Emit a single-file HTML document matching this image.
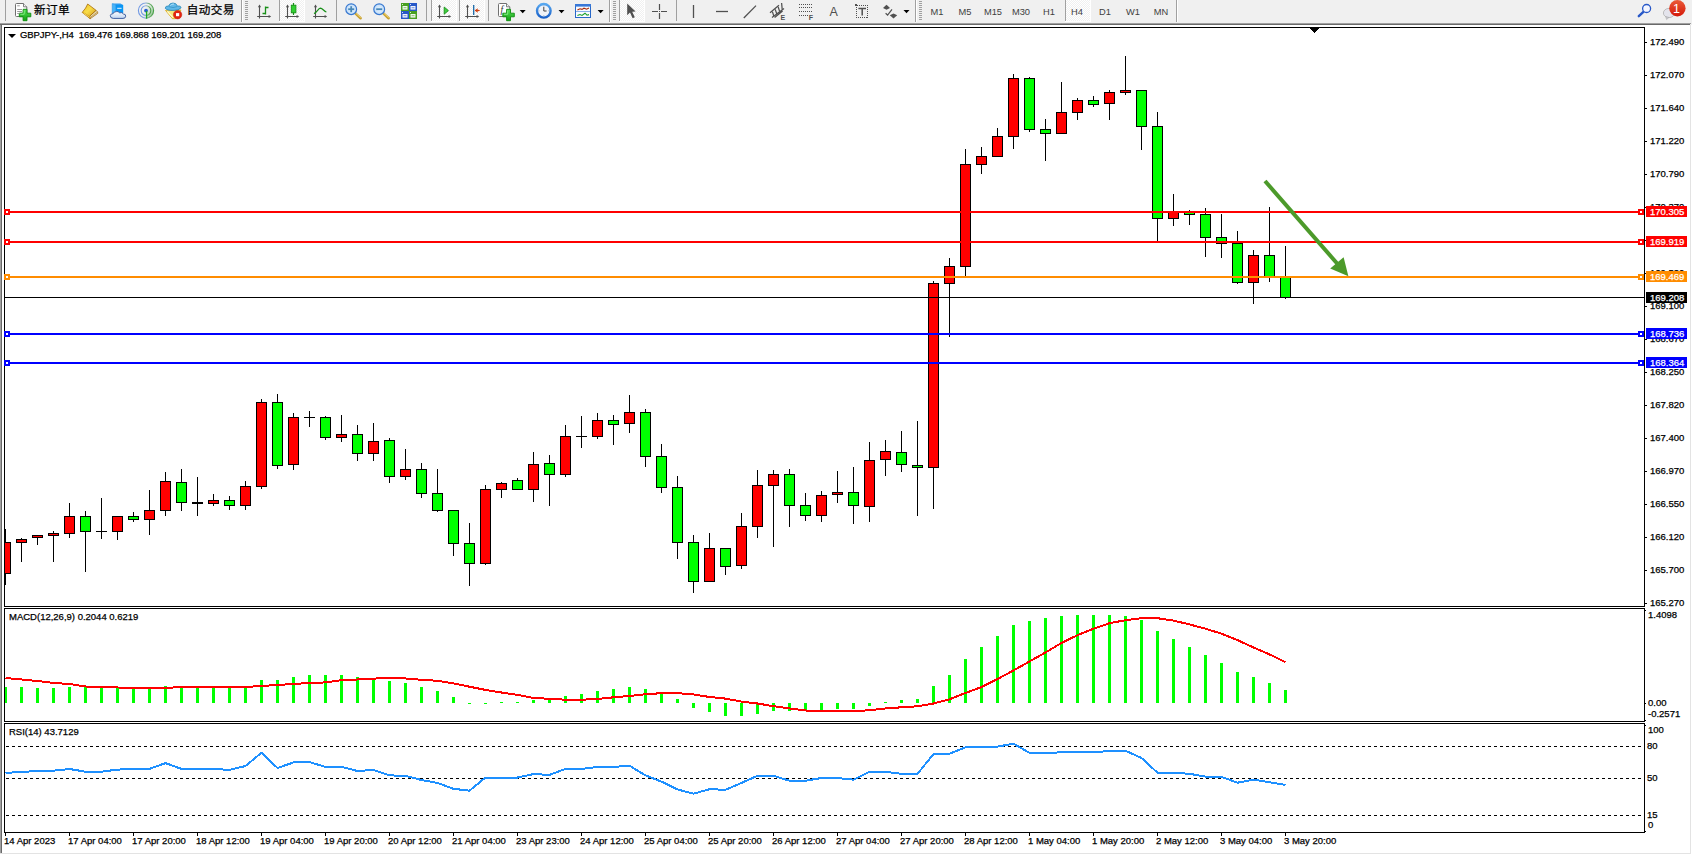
<!DOCTYPE html>
<html lang="zh"><head><meta charset="utf-8"><title>GBPJPY-,H4</title>
<style>
html,body{margin:0;padding:0}
body{width:1692px;height:855px;position:relative;overflow:hidden;background:#fff;font-family:"Liberation Sans","Noto Sans CJK SC",sans-serif}
.c{position:absolute;font-size:9.5px;line-height:11px;-webkit-text-stroke:0.25px #000;height:11px;white-space:nowrap;color:#000}
.w{color:#fff;-webkit-text-stroke:0.25px #fff}
.tb{position:absolute;white-space:nowrap}
svg{display:block}
</style></head><body>
<svg width="1692" height="855" style="position:absolute;left:0;top:0" shape-rendering="crispEdges">
<defs><clipPath id="cm"><rect x="5" y="28" width="1639" height="578"/></clipPath></defs>
<rect x="0" y="0" width="1692" height="22" fill="#f0f0f0"/>
<rect x="0" y="22" width="1692" height="1" fill="#f0f0f0"/>
<rect x="0" y="23" width="1691" height="1" fill="#a0a0a0"/>
<rect x="0" y="24" width="1690" height="1" fill="#696969"/>
<rect x="1691" y="23" width="1" height="2" fill="#f0f0f0"/>
<rect x="1690" y="24" width="1" height="1" fill="#f0f0f0"/>
<rect x="0" y="25" width="1" height="828" fill="#a0a0a0"/>
<rect x="1" y="25" width="1" height="828" fill="#696969"/>
<rect x="1690" y="25" width="1" height="829" fill="#e3e3e3"/>
<rect x="0" y="853" width="1691" height="1" fill="#e3e3e3"/>
<rect x="4" y="27" width="1641" height="1" fill="#000"/>
<rect x="4" y="606" width="1641" height="1" fill="#000"/>
<rect x="4" y="27" width="1" height="580" fill="#000"/>
<rect x="1644" y="27" width="1" height="580" fill="#000"/>
<rect x="4" y="608" width="1641" height="1" fill="#000"/>
<rect x="4" y="721" width="1641" height="1" fill="#000"/>
<rect x="4" y="608" width="1" height="114" fill="#000"/>
<rect x="1644" y="608" width="1" height="114" fill="#000"/>
<rect x="4" y="723" width="1641" height="1" fill="#000"/>
<rect x="4" y="832" width="1641" height="1" fill="#000"/>
<rect x="4" y="723" width="1" height="110" fill="#000"/>
<rect x="1644" y="723" width="1" height="110" fill="#000"/>
<rect x="1310" y="28" width="9" height="1" fill="#000"/>
<rect x="1311" y="29" width="7" height="1" fill="#000"/>
<rect x="1312" y="30" width="5" height="1" fill="#000"/>
<rect x="1313" y="31" width="3" height="1" fill="#000"/>
<rect x="1314" y="32" width="1" height="1" fill="#000"/>
<rect x="1645" y="42" width="2" height="1" fill="#000"/>
<rect x="1645" y="75" width="2" height="1" fill="#000"/>
<rect x="1645" y="108" width="2" height="1" fill="#000"/>
<rect x="1645" y="141" width="2" height="1" fill="#000"/>
<rect x="1645" y="174" width="2" height="1" fill="#000"/>
<rect x="1645" y="207" width="2" height="1" fill="#000"/>
<rect x="1645" y="240" width="2" height="1" fill="#000"/>
<rect x="1645" y="273" width="2" height="1" fill="#000"/>
<rect x="1645" y="306" width="2" height="1" fill="#000"/>
<rect x="1645" y="339" width="2" height="1" fill="#000"/>
<rect x="1645" y="372" width="2" height="1" fill="#000"/>
<rect x="1645" y="405" width="2" height="1" fill="#000"/>
<rect x="1645" y="438" width="2" height="1" fill="#000"/>
<rect x="1645" y="471" width="2" height="1" fill="#000"/>
<rect x="1645" y="504" width="2" height="1" fill="#000"/>
<rect x="1645" y="537" width="2" height="1" fill="#000"/>
<rect x="1645" y="570" width="2" height="1" fill="#000"/>
<rect x="1645" y="603" width="2" height="1" fill="#000"/>
<rect x="1645" y="610" width="1" height="1" fill="#000"/>
<rect x="1645" y="703" width="1" height="1" fill="#000"/>
<rect x="1645" y="720" width="1" height="1" fill="#000"/>
<rect x="1645" y="725" width="1" height="1" fill="#000"/>
<rect x="1645" y="831" width="1" height="1" fill="#000"/>
<rect x="5" y="833" width="1" height="3" fill="#000"/>
<rect x="69" y="833" width="1" height="3" fill="#000"/>
<rect x="133" y="833" width="1" height="3" fill="#000"/>
<rect x="197" y="833" width="1" height="3" fill="#000"/>
<rect x="261" y="833" width="1" height="3" fill="#000"/>
<rect x="325" y="833" width="1" height="3" fill="#000"/>
<rect x="389" y="833" width="1" height="3" fill="#000"/>
<rect x="453" y="833" width="1" height="3" fill="#000"/>
<rect x="517" y="833" width="1" height="3" fill="#000"/>
<rect x="581" y="833" width="1" height="3" fill="#000"/>
<rect x="645" y="833" width="1" height="3" fill="#000"/>
<rect x="709" y="833" width="1" height="3" fill="#000"/>
<rect x="773" y="833" width="1" height="3" fill="#000"/>
<rect x="837" y="833" width="1" height="3" fill="#000"/>
<rect x="901" y="833" width="1" height="3" fill="#000"/>
<rect x="965" y="833" width="1" height="3" fill="#000"/>
<rect x="1029" y="833" width="1" height="3" fill="#000"/>
<rect x="1093" y="833" width="1" height="3" fill="#000"/>
<rect x="1157" y="833" width="1" height="3" fill="#000"/>
<rect x="1221" y="833" width="1" height="3" fill="#000"/>
<rect x="1285" y="833" width="1" height="3" fill="#000"/>
<g clip-path="url(#cm)">
<rect x="5" y="529" width="1" height="56" fill="#000"/>
<rect x="0" y="542" width="11" height="32" fill="#000"/>
<rect x="1" y="543" width="9" height="30" fill="#ff0000"/>
<rect x="21" y="538" width="1" height="24" fill="#000"/>
<rect x="16" y="539" width="11" height="4" fill="#000"/>
<rect x="17" y="540" width="9" height="2" fill="#ff0000"/>
<rect x="37" y="535" width="1" height="10" fill="#000"/>
<rect x="32" y="535" width="11" height="3" fill="#000"/>
<rect x="33" y="536" width="9" height="1" fill="#ff0000"/>
<rect x="53" y="531" width="1" height="31" fill="#000"/>
<rect x="48" y="533" width="11" height="3" fill="#000"/>
<rect x="49" y="534" width="9" height="1" fill="#ff0000"/>
<rect x="69" y="503" width="1" height="35" fill="#000"/>
<rect x="64" y="516" width="11" height="18" fill="#000"/>
<rect x="65" y="517" width="9" height="16" fill="#ff0000"/>
<rect x="85" y="511" width="1" height="61" fill="#000"/>
<rect x="80" y="516" width="11" height="16" fill="#000"/>
<rect x="81" y="517" width="9" height="14" fill="#00ff00"/>
<rect x="101" y="498" width="1" height="41" fill="#000"/>
<rect x="96" y="531" width="11" height="1" fill="#000"/>
<rect x="117" y="516" width="1" height="24" fill="#000"/>
<rect x="112" y="516" width="11" height="16" fill="#000"/>
<rect x="113" y="517" width="9" height="14" fill="#ff0000"/>
<rect x="133" y="512" width="1" height="10" fill="#000"/>
<rect x="128" y="516" width="11" height="4" fill="#000"/>
<rect x="129" y="517" width="9" height="2" fill="#00ff00"/>
<rect x="149" y="490" width="1" height="45" fill="#000"/>
<rect x="144" y="510" width="11" height="10" fill="#000"/>
<rect x="145" y="511" width="9" height="8" fill="#ff0000"/>
<rect x="165" y="472" width="1" height="44" fill="#000"/>
<rect x="160" y="481" width="11" height="30" fill="#000"/>
<rect x="161" y="482" width="9" height="28" fill="#ff0000"/>
<rect x="181" y="469" width="1" height="42" fill="#000"/>
<rect x="176" y="482" width="11" height="21" fill="#000"/>
<rect x="177" y="483" width="9" height="19" fill="#00ff00"/>
<rect x="197" y="477" width="1" height="39" fill="#000"/>
<rect x="192" y="502" width="11" height="2" fill="#000"/>
<rect x="213" y="494" width="1" height="12" fill="#000"/>
<rect x="208" y="500" width="11" height="4" fill="#000"/>
<rect x="209" y="501" width="9" height="2" fill="#ff0000"/>
<rect x="229" y="496" width="1" height="14" fill="#000"/>
<rect x="224" y="500" width="11" height="6" fill="#000"/>
<rect x="225" y="501" width="9" height="4" fill="#00ff00"/>
<rect x="245" y="481" width="1" height="29" fill="#000"/>
<rect x="240" y="486" width="11" height="20" fill="#000"/>
<rect x="241" y="487" width="9" height="18" fill="#ff0000"/>
<rect x="261" y="399" width="1" height="90" fill="#000"/>
<rect x="256" y="402" width="11" height="85" fill="#000"/>
<rect x="257" y="403" width="9" height="83" fill="#ff0000"/>
<rect x="277" y="394" width="1" height="75" fill="#000"/>
<rect x="272" y="402" width="11" height="64" fill="#000"/>
<rect x="273" y="403" width="9" height="62" fill="#00ff00"/>
<rect x="293" y="413" width="1" height="57" fill="#000"/>
<rect x="288" y="417" width="11" height="48" fill="#000"/>
<rect x="289" y="418" width="9" height="46" fill="#ff0000"/>
<rect x="309" y="411" width="1" height="16" fill="#000"/>
<rect x="304" y="417" width="11" height="1" fill="#000"/>
<rect x="325" y="416" width="1" height="24" fill="#000"/>
<rect x="320" y="417" width="11" height="21" fill="#000"/>
<rect x="321" y="418" width="9" height="19" fill="#00ff00"/>
<rect x="341" y="415" width="1" height="27" fill="#000"/>
<rect x="336" y="434" width="11" height="4" fill="#000"/>
<rect x="337" y="435" width="9" height="2" fill="#ff0000"/>
<rect x="357" y="425" width="1" height="36" fill="#000"/>
<rect x="352" y="434" width="11" height="20" fill="#000"/>
<rect x="353" y="435" width="9" height="18" fill="#00ff00"/>
<rect x="373" y="423" width="1" height="38" fill="#000"/>
<rect x="368" y="441" width="11" height="13" fill="#000"/>
<rect x="369" y="442" width="9" height="11" fill="#ff0000"/>
<rect x="389" y="438" width="1" height="45" fill="#000"/>
<rect x="384" y="440" width="11" height="37" fill="#000"/>
<rect x="385" y="441" width="9" height="35" fill="#00ff00"/>
<rect x="405" y="449" width="1" height="31" fill="#000"/>
<rect x="400" y="469" width="11" height="8" fill="#000"/>
<rect x="401" y="470" width="9" height="6" fill="#ff0000"/>
<rect x="421" y="463" width="1" height="35" fill="#000"/>
<rect x="416" y="469" width="11" height="25" fill="#000"/>
<rect x="417" y="470" width="9" height="23" fill="#00ff00"/>
<rect x="437" y="469" width="1" height="43" fill="#000"/>
<rect x="432" y="493" width="11" height="18" fill="#000"/>
<rect x="433" y="494" width="9" height="16" fill="#00ff00"/>
<rect x="453" y="510" width="1" height="46" fill="#000"/>
<rect x="448" y="510" width="11" height="34" fill="#000"/>
<rect x="449" y="511" width="9" height="32" fill="#00ff00"/>
<rect x="469" y="523" width="1" height="63" fill="#000"/>
<rect x="464" y="543" width="11" height="21" fill="#000"/>
<rect x="465" y="544" width="9" height="19" fill="#00ff00"/>
<rect x="485" y="485" width="1" height="80" fill="#000"/>
<rect x="480" y="489" width="11" height="75" fill="#000"/>
<rect x="481" y="490" width="9" height="73" fill="#ff0000"/>
<rect x="501" y="482" width="1" height="16" fill="#000"/>
<rect x="496" y="483" width="11" height="7" fill="#000"/>
<rect x="497" y="484" width="9" height="5" fill="#ff0000"/>
<rect x="517" y="478" width="1" height="12" fill="#000"/>
<rect x="512" y="480" width="11" height="10" fill="#000"/>
<rect x="513" y="481" width="9" height="8" fill="#00ff00"/>
<rect x="533" y="452" width="1" height="50" fill="#000"/>
<rect x="528" y="464" width="11" height="26" fill="#000"/>
<rect x="529" y="465" width="9" height="24" fill="#ff0000"/>
<rect x="549" y="455" width="1" height="51" fill="#000"/>
<rect x="544" y="463" width="11" height="12" fill="#000"/>
<rect x="545" y="464" width="9" height="10" fill="#00ff00"/>
<rect x="565" y="425" width="1" height="52" fill="#000"/>
<rect x="560" y="436" width="11" height="39" fill="#000"/>
<rect x="561" y="437" width="9" height="37" fill="#ff0000"/>
<rect x="581" y="416" width="1" height="32" fill="#000"/>
<rect x="576" y="436" width="11" height="1" fill="#000"/>
<rect x="597" y="413" width="1" height="26" fill="#000"/>
<rect x="592" y="420" width="11" height="17" fill="#000"/>
<rect x="593" y="421" width="9" height="15" fill="#ff0000"/>
<rect x="613" y="415" width="1" height="30" fill="#000"/>
<rect x="608" y="420" width="11" height="5" fill="#000"/>
<rect x="609" y="421" width="9" height="3" fill="#00ff00"/>
<rect x="629" y="395" width="1" height="38" fill="#000"/>
<rect x="624" y="412" width="11" height="12" fill="#000"/>
<rect x="625" y="413" width="9" height="10" fill="#ff0000"/>
<rect x="645" y="409" width="1" height="58" fill="#000"/>
<rect x="640" y="412" width="11" height="45" fill="#000"/>
<rect x="641" y="413" width="9" height="43" fill="#00ff00"/>
<rect x="661" y="444" width="1" height="49" fill="#000"/>
<rect x="656" y="456" width="11" height="32" fill="#000"/>
<rect x="657" y="457" width="9" height="30" fill="#00ff00"/>
<rect x="677" y="476" width="1" height="83" fill="#000"/>
<rect x="672" y="487" width="11" height="56" fill="#000"/>
<rect x="673" y="488" width="9" height="54" fill="#00ff00"/>
<rect x="693" y="535" width="1" height="58" fill="#000"/>
<rect x="688" y="542" width="11" height="40" fill="#000"/>
<rect x="689" y="543" width="9" height="38" fill="#00ff00"/>
<rect x="709" y="533" width="1" height="49" fill="#000"/>
<rect x="704" y="548" width="11" height="34" fill="#000"/>
<rect x="705" y="549" width="9" height="32" fill="#ff0000"/>
<rect x="725" y="548" width="1" height="27" fill="#000"/>
<rect x="720" y="548" width="11" height="19" fill="#000"/>
<rect x="721" y="549" width="9" height="17" fill="#00ff00"/>
<rect x="741" y="513" width="1" height="56" fill="#000"/>
<rect x="736" y="526" width="11" height="40" fill="#000"/>
<rect x="737" y="527" width="9" height="38" fill="#ff0000"/>
<rect x="757" y="470" width="1" height="68" fill="#000"/>
<rect x="752" y="485" width="11" height="42" fill="#000"/>
<rect x="753" y="486" width="9" height="40" fill="#ff0000"/>
<rect x="773" y="470" width="1" height="77" fill="#000"/>
<rect x="768" y="474" width="11" height="12" fill="#000"/>
<rect x="769" y="475" width="9" height="10" fill="#ff0000"/>
<rect x="789" y="469" width="1" height="58" fill="#000"/>
<rect x="784" y="474" width="11" height="32" fill="#000"/>
<rect x="785" y="475" width="9" height="30" fill="#00ff00"/>
<rect x="805" y="493" width="1" height="28" fill="#000"/>
<rect x="800" y="505" width="11" height="11" fill="#000"/>
<rect x="801" y="506" width="9" height="9" fill="#00ff00"/>
<rect x="821" y="491" width="1" height="31" fill="#000"/>
<rect x="816" y="495" width="11" height="21" fill="#000"/>
<rect x="817" y="496" width="9" height="19" fill="#ff0000"/>
<rect x="837" y="471" width="1" height="32" fill="#000"/>
<rect x="832" y="492" width="11" height="3" fill="#000"/>
<rect x="833" y="493" width="9" height="1" fill="#ff0000"/>
<rect x="853" y="467" width="1" height="57" fill="#000"/>
<rect x="848" y="492" width="11" height="14" fill="#000"/>
<rect x="849" y="493" width="9" height="12" fill="#00ff00"/>
<rect x="869" y="442" width="1" height="80" fill="#000"/>
<rect x="864" y="460" width="11" height="47" fill="#000"/>
<rect x="865" y="461" width="9" height="45" fill="#ff0000"/>
<rect x="885" y="440" width="1" height="36" fill="#000"/>
<rect x="880" y="451" width="11" height="9" fill="#000"/>
<rect x="881" y="452" width="9" height="7" fill="#ff0000"/>
<rect x="901" y="431" width="1" height="41" fill="#000"/>
<rect x="896" y="452" width="11" height="13" fill="#000"/>
<rect x="897" y="453" width="9" height="11" fill="#00ff00"/>
<rect x="917" y="421" width="1" height="95" fill="#000"/>
<rect x="912" y="465" width="11" height="3" fill="#000"/>
<rect x="913" y="466" width="9" height="1" fill="#00ff00"/>
<rect x="933" y="281" width="1" height="228" fill="#000"/>
<rect x="928" y="283" width="11" height="185" fill="#000"/>
<rect x="929" y="284" width="9" height="183" fill="#ff0000"/>
<rect x="949" y="258" width="1" height="79" fill="#000"/>
<rect x="944" y="266" width="11" height="18" fill="#000"/>
<rect x="945" y="267" width="9" height="16" fill="#ff0000"/>
<rect x="965" y="149" width="1" height="127" fill="#000"/>
<rect x="960" y="164" width="11" height="103" fill="#000"/>
<rect x="961" y="165" width="9" height="101" fill="#ff0000"/>
<rect x="981" y="147" width="1" height="27" fill="#000"/>
<rect x="976" y="156" width="11" height="9" fill="#000"/>
<rect x="977" y="157" width="9" height="7" fill="#ff0000"/>
<rect x="997" y="128" width="1" height="29" fill="#000"/>
<rect x="992" y="136" width="11" height="21" fill="#000"/>
<rect x="993" y="137" width="9" height="19" fill="#ff0000"/>
<rect x="1013" y="74" width="1" height="75" fill="#000"/>
<rect x="1008" y="78" width="11" height="59" fill="#000"/>
<rect x="1009" y="79" width="9" height="57" fill="#ff0000"/>
<rect x="1029" y="77" width="1" height="55" fill="#000"/>
<rect x="1024" y="78" width="11" height="52" fill="#000"/>
<rect x="1025" y="79" width="9" height="50" fill="#00ff00"/>
<rect x="1045" y="119" width="1" height="42" fill="#000"/>
<rect x="1040" y="129" width="11" height="5" fill="#000"/>
<rect x="1041" y="130" width="9" height="3" fill="#00ff00"/>
<rect x="1061" y="82" width="1" height="52" fill="#000"/>
<rect x="1056" y="112" width="11" height="22" fill="#000"/>
<rect x="1057" y="113" width="9" height="20" fill="#ff0000"/>
<rect x="1077" y="98" width="1" height="22" fill="#000"/>
<rect x="1072" y="100" width="11" height="13" fill="#000"/>
<rect x="1073" y="101" width="9" height="11" fill="#ff0000"/>
<rect x="1093" y="96" width="1" height="11" fill="#000"/>
<rect x="1088" y="100" width="11" height="5" fill="#000"/>
<rect x="1089" y="101" width="9" height="3" fill="#00ff00"/>
<rect x="1109" y="90" width="1" height="30" fill="#000"/>
<rect x="1104" y="92" width="11" height="12" fill="#000"/>
<rect x="1105" y="93" width="9" height="10" fill="#ff0000"/>
<rect x="1125" y="56" width="1" height="39" fill="#000"/>
<rect x="1120" y="90" width="11" height="3" fill="#000"/>
<rect x="1121" y="91" width="9" height="1" fill="#ff0000"/>
<rect x="1141" y="90" width="1" height="60" fill="#000"/>
<rect x="1136" y="90" width="11" height="37" fill="#000"/>
<rect x="1137" y="91" width="9" height="35" fill="#00ff00"/>
<rect x="1157" y="112" width="1" height="129" fill="#000"/>
<rect x="1152" y="126" width="11" height="93" fill="#000"/>
<rect x="1153" y="127" width="9" height="91" fill="#00ff00"/>
<rect x="1173" y="194" width="1" height="32" fill="#000"/>
<rect x="1168" y="211" width="11" height="8" fill="#000"/>
<rect x="1169" y="212" width="9" height="6" fill="#ff0000"/>
<rect x="1189" y="210" width="1" height="15" fill="#000"/>
<rect x="1184" y="212" width="11" height="3" fill="#000"/>
<rect x="1185" y="213" width="9" height="1" fill="#00ff00"/>
<rect x="1205" y="208" width="1" height="49" fill="#000"/>
<rect x="1200" y="214" width="11" height="24" fill="#000"/>
<rect x="1201" y="215" width="9" height="22" fill="#00ff00"/>
<rect x="1221" y="214" width="1" height="44" fill="#000"/>
<rect x="1216" y="237" width="11" height="7" fill="#000"/>
<rect x="1217" y="238" width="9" height="5" fill="#00ff00"/>
<rect x="1237" y="231" width="1" height="53" fill="#000"/>
<rect x="1232" y="243" width="11" height="40" fill="#000"/>
<rect x="1233" y="244" width="9" height="38" fill="#00ff00"/>
<rect x="1253" y="250" width="1" height="54" fill="#000"/>
<rect x="1248" y="255" width="11" height="28" fill="#000"/>
<rect x="1249" y="256" width="9" height="26" fill="#ff0000"/>
<rect x="1269" y="207" width="1" height="75" fill="#000"/>
<rect x="1264" y="255" width="11" height="22" fill="#000"/>
<rect x="1265" y="256" width="9" height="20" fill="#00ff00"/>
<rect x="1285" y="246" width="1" height="53" fill="#000"/>
<rect x="1280" y="277" width="11" height="21" fill="#000"/>
<rect x="1281" y="278" width="9" height="19" fill="#00ff00"/>
</g>
<rect x="5" y="211" width="1639" height="2" fill="#ff0000"/>
<rect x="4" y="209" width="6" height="6" fill="#ff0000"/>
<rect x="6" y="211" width="2" height="2" fill="#fff"/>
<rect x="1638" y="209" width="6" height="6" fill="#ff0000"/>
<rect x="1640" y="211" width="2" height="2" fill="#fff"/>
<rect x="5" y="241" width="1639" height="2" fill="#ff0000"/>
<rect x="4" y="239" width="6" height="6" fill="#ff0000"/>
<rect x="6" y="241" width="2" height="2" fill="#fff"/>
<rect x="1638" y="239" width="6" height="6" fill="#ff0000"/>
<rect x="1640" y="241" width="2" height="2" fill="#fff"/>
<rect x="5" y="276" width="1639" height="2" fill="#ff8c00"/>
<rect x="4" y="274" width="6" height="6" fill="#ff8c00"/>
<rect x="6" y="276" width="2" height="2" fill="#fff"/>
<rect x="1638" y="274" width="6" height="6" fill="#ff8c00"/>
<rect x="1640" y="276" width="2" height="2" fill="#fff"/>
<rect x="5" y="297" width="1639" height="1" fill="#000"/>
<rect x="5" y="333" width="1639" height="2" fill="#0000ff"/>
<rect x="4" y="331" width="6" height="6" fill="#0000ff"/>
<rect x="6" y="333" width="2" height="2" fill="#fff"/>
<rect x="1638" y="331" width="6" height="6" fill="#0000ff"/>
<rect x="1640" y="333" width="2" height="2" fill="#fff"/>
<rect x="5" y="362" width="1639" height="2" fill="#0000ff"/>
<rect x="4" y="360" width="6" height="6" fill="#0000ff"/>
<rect x="6" y="362" width="2" height="2" fill="#fff"/>
<rect x="1638" y="360" width="6" height="6" fill="#0000ff"/>
<rect x="1640" y="362" width="2" height="2" fill="#fff"/>
<rect x="5" y="687" width="2" height="16" fill="#00ff00"/>
<rect x="20" y="687" width="3" height="16" fill="#00ff00"/>
<rect x="36" y="688" width="3" height="15" fill="#00ff00"/>
<rect x="52" y="688" width="3" height="15" fill="#00ff00"/>
<rect x="68" y="687" width="3" height="16" fill="#00ff00"/>
<rect x="84" y="687" width="3" height="16" fill="#00ff00"/>
<rect x="100" y="688" width="3" height="15" fill="#00ff00"/>
<rect x="116" y="688" width="3" height="15" fill="#00ff00"/>
<rect x="132" y="689" width="3" height="14" fill="#00ff00"/>
<rect x="148" y="689" width="3" height="14" fill="#00ff00"/>
<rect x="164" y="686" width="3" height="17" fill="#00ff00"/>
<rect x="180" y="686" width="3" height="17" fill="#00ff00"/>
<rect x="196" y="688" width="3" height="15" fill="#00ff00"/>
<rect x="212" y="688" width="3" height="15" fill="#00ff00"/>
<rect x="228" y="688" width="3" height="15" fill="#00ff00"/>
<rect x="244" y="688" width="3" height="15" fill="#00ff00"/>
<rect x="260" y="680" width="3" height="23" fill="#00ff00"/>
<rect x="276" y="680" width="3" height="23" fill="#00ff00"/>
<rect x="292" y="677" width="3" height="26" fill="#00ff00"/>
<rect x="308" y="675" width="3" height="28" fill="#00ff00"/>
<rect x="324" y="675" width="3" height="28" fill="#00ff00"/>
<rect x="340" y="675" width="3" height="28" fill="#00ff00"/>
<rect x="356" y="677" width="3" height="26" fill="#00ff00"/>
<rect x="372" y="679" width="3" height="24" fill="#00ff00"/>
<rect x="388" y="681" width="3" height="22" fill="#00ff00"/>
<rect x="404" y="683" width="3" height="20" fill="#00ff00"/>
<rect x="420" y="687" width="3" height="16" fill="#00ff00"/>
<rect x="436" y="691" width="3" height="12" fill="#00ff00"/>
<rect x="452" y="697" width="3" height="6" fill="#00ff00"/>
<rect x="468" y="703" width="3" height="1" fill="#00ff00"/>
<rect x="484" y="703" width="3" height="1" fill="#00ff00"/>
<rect x="500" y="702" width="3" height="1" fill="#00ff00"/>
<rect x="516" y="702" width="3" height="1" fill="#00ff00"/>
<rect x="532" y="700" width="3" height="3" fill="#00ff00"/>
<rect x="548" y="699" width="3" height="4" fill="#00ff00"/>
<rect x="564" y="696" width="3" height="7" fill="#00ff00"/>
<rect x="580" y="694" width="3" height="9" fill="#00ff00"/>
<rect x="596" y="691" width="3" height="12" fill="#00ff00"/>
<rect x="612" y="689" width="3" height="14" fill="#00ff00"/>
<rect x="628" y="687" width="3" height="16" fill="#00ff00"/>
<rect x="644" y="689" width="3" height="14" fill="#00ff00"/>
<rect x="660" y="692" width="3" height="11" fill="#00ff00"/>
<rect x="676" y="699" width="3" height="4" fill="#00ff00"/>
<rect x="692" y="703" width="3" height="5" fill="#00ff00"/>
<rect x="708" y="703" width="3" height="9" fill="#00ff00"/>
<rect x="724" y="703" width="3" height="13" fill="#00ff00"/>
<rect x="740" y="703" width="3" height="13" fill="#00ff00"/>
<rect x="756" y="703" width="3" height="11" fill="#00ff00"/>
<rect x="772" y="703" width="3" height="8" fill="#00ff00"/>
<rect x="788" y="703" width="3" height="8" fill="#00ff00"/>
<rect x="804" y="703" width="3" height="7" fill="#00ff00"/>
<rect x="820" y="703" width="3" height="7" fill="#00ff00"/>
<rect x="836" y="703" width="3" height="6" fill="#00ff00"/>
<rect x="852" y="703" width="3" height="6" fill="#00ff00"/>
<rect x="868" y="703" width="3" height="3" fill="#00ff00"/>
<rect x="884" y="702" width="3" height="1" fill="#00ff00"/>
<rect x="900" y="700" width="3" height="3" fill="#00ff00"/>
<rect x="916" y="699" width="3" height="4" fill="#00ff00"/>
<rect x="932" y="686" width="3" height="17" fill="#00ff00"/>
<rect x="948" y="675" width="3" height="28" fill="#00ff00"/>
<rect x="964" y="659" width="3" height="44" fill="#00ff00"/>
<rect x="980" y="647" width="3" height="56" fill="#00ff00"/>
<rect x="996" y="636" width="3" height="67" fill="#00ff00"/>
<rect x="1012" y="625" width="3" height="78" fill="#00ff00"/>
<rect x="1028" y="621" width="3" height="82" fill="#00ff00"/>
<rect x="1044" y="618" width="3" height="85" fill="#00ff00"/>
<rect x="1060" y="616" width="3" height="87" fill="#00ff00"/>
<rect x="1076" y="615" width="3" height="88" fill="#00ff00"/>
<rect x="1092" y="615" width="3" height="88" fill="#00ff00"/>
<rect x="1108" y="615" width="3" height="88" fill="#00ff00"/>
<rect x="1124" y="616" width="3" height="87" fill="#00ff00"/>
<rect x="1140" y="620" width="3" height="83" fill="#00ff00"/>
<rect x="1156" y="631" width="3" height="72" fill="#00ff00"/>
<rect x="1172" y="639" width="3" height="64" fill="#00ff00"/>
<rect x="1188" y="647" width="3" height="56" fill="#00ff00"/>
<rect x="1204" y="655" width="3" height="48" fill="#00ff00"/>
<rect x="1220" y="663" width="3" height="40" fill="#00ff00"/>
<rect x="1236" y="672" width="3" height="31" fill="#00ff00"/>
<rect x="1252" y="677" width="3" height="26" fill="#00ff00"/>
<rect x="1268" y="683" width="3" height="20" fill="#00ff00"/>
<rect x="1284" y="690" width="3" height="13" fill="#00ff00"/>
<polyline points="5.5,678 21.5,679.5 37.5,681 53.5,683 69.5,684 85.5,686.5 101.5,687 117.5,687.5 133.5,687.7 149.5,687.7 165.5,687.7 181.5,687.3 197.5,687 213.5,687 229.5,687 245.5,687 261.5,686 277.5,685 293.5,684 309.5,683 325.5,682.4 341.5,680.2 357.5,679.5 373.5,678.6 389.5,678 405.5,678.5 421.5,679.8 437.5,680.8 453.5,683.4 469.5,686.7 485.5,689.9 501.5,692.5 517.5,694.9 533.5,698 549.5,698.8 565.5,699.7 581.5,699.7 597.5,699 613.5,697.3 629.5,696 645.5,694.2 661.5,693.2 677.5,693.2 693.5,694.4 709.5,697 725.5,698.6 741.5,701.6 757.5,703.5 773.5,706.2 789.5,708.4 805.5,710.5 821.5,710.8 837.5,711 853.5,711 869.5,710.3 885.5,708.4 901.5,707.3 917.5,706.3 933.5,703.5 949.5,699.3 965.5,693 981.5,687.1 997.5,679 1013.5,670.5 1029.5,661.4 1045.5,652.5 1061.5,642.9 1077.5,635.2 1093.5,628.7 1109.5,623.2 1125.5,620.2 1141.5,618.2 1157.5,618.2 1173.5,620.6 1189.5,624.4 1205.5,628.7 1221.5,633.7 1237.5,640.1 1253.5,647.5 1269.5,654.4 1285.5,662.1" fill="none" stroke="#ff0000" stroke-width="2" stroke-linejoin="round"/>
<line x1="6" y1="746.5" x2="1644" y2="746.5" stroke="#000" stroke-width="1" stroke-dasharray="3 3"/>
<line x1="6" y1="778.5" x2="1644" y2="778.5" stroke="#000" stroke-width="1" stroke-dasharray="3 3"/>
<line x1="6" y1="815.5" x2="1644" y2="815.5" stroke="#000" stroke-width="1" stroke-dasharray="3 3"/>
<polyline points="5.5,772.9 21.5,772 37.5,771 53.5,770.7 69.5,769 85.5,771.7 101.5,771.7 117.5,769.6 133.5,768.9 149.5,768.9 165.5,763.1 181.5,768.9 197.5,768.9 213.5,768.9 229.5,769.9 245.5,766 261.5,752.7 277.5,768 293.5,762.4 309.5,762.1 325.5,766.9 341.5,766.9 357.5,771 373.5,769.9 389.5,775.4 405.5,775.8 421.5,780 437.5,782.9 453.5,788.8 469.5,790.7 485.5,777.5 501.5,777.5 517.5,777.5 533.5,774.1 549.5,774.9 565.5,768.9 581.5,768.9 597.5,766.9 613.5,766.9 629.5,765.7 645.5,775.4 661.5,781.6 677.5,789.4 693.5,793.7 709.5,789.2 725.5,789.8 741.5,782.9 757.5,775.8 773.5,775.8 789.5,780.7 805.5,780.7 821.5,778 837.5,778 853.5,779.7 869.5,771.9 885.5,771.9 901.5,773.8 917.5,773.8 933.5,754.1 949.5,753.7 965.5,747.3 981.5,746.9 997.5,746.6 1013.5,743.7 1029.5,752.9 1045.5,753 1061.5,752.3 1077.5,752 1093.5,752 1109.5,751.2 1125.5,750.7 1141.5,758 1157.5,772.7 1173.5,772.7 1189.5,773.8 1205.5,776.6 1221.5,776.9 1237.5,782.7 1253.5,779.6 1269.5,782.2 1285.5,784.9" fill="none" stroke="#1e90ff" stroke-width="2" stroke-linejoin="round"/>
</svg>
<svg width="1692" height="855" style="position:absolute;left:0;top:0">
<line x1="1265" y1="181" x2="1338" y2="264.5" stroke="#4c9a2a" stroke-width="4"/>
<polygon points="1348.4,276.3 1330.2,268.6 1343.6,257.3" fill="#4c9a2a"/>
</svg>
<svg width="1692" height="22" style="position:absolute;left:0;top:0;overflow:visible">
<defs>
<pattern id="chk" width="2" height="2" patternUnits="userSpaceOnUse"><rect width="2" height="2" fill="#f0f0f0"/><rect width="1" height="1" fill="#fff"/><rect x="1" y="1" width="1" height="1" fill="#fff"/></pattern>
<linearGradient id="gGold" x1="0" y1="0" x2="1" y2="1"><stop offset="0" stop-color="#f0c428"/><stop offset="0.45" stop-color="#f8dc48"/><stop offset="1" stop-color="#cc9010"/></linearGradient>
<linearGradient id="gGreen" x1="0" y1="0" x2="0" y2="1"><stop offset="0" stop-color="#58e058"/><stop offset="1" stop-color="#10a010"/></linearGradient>
<linearGradient id="gBlue" x1="0" y1="0" x2="0" y2="1"><stop offset="0" stop-color="#58a8f0"/><stop offset="1" stop-color="#1860c8"/></linearGradient>
<linearGradient id="gRed" x1="0" y1="0" x2="0" y2="1"><stop offset="0" stop-color="#ea5a38"/><stop offset="1" stop-color="#d41808"/></linearGradient>
<radialGradient id="gLens" cx="0.5" cy="0.5" r="0.6"><stop offset="0" stop-color="#e8f4ff"/><stop offset="1" stop-color="#b8d8f8"/></radialGradient>
<linearGradient id="gSig" x1="0" y1="0" x2="1" y2="0" gradientUnits="objectBoundingBox"><stop offset="0" stop-color="#7098e4"/><stop offset="0.45" stop-color="#88a8e0"/><stop offset="0.7" stop-color="#78b478"/><stop offset="1" stop-color="#48a048"/></linearGradient>
<linearGradient id="gSigFill" x1="0" y1="0" x2="1" y2="0.5"><stop offset="0.4" stop-color="#ffffff" stop-opacity="0"/><stop offset="1" stop-color="#50a850" stop-opacity="0.55"/></linearGradient>
<linearGradient id="gCloud" x1="0" y1="0" x2="0" y2="1"><stop offset="0" stop-color="#ffffff"/><stop offset="1" stop-color="#c0d4f0"/></linearGradient>
</defs>
<rect x="5" y="0" width="1" height="21" fill="#a0a0a0" shape-rendering="crispEdges"/>
<path d="M16.5 3.5H23.5L26.8 6.8V15.5Q26.8 16.5 25.8 16.5H16.5Q15.5 16.5 15.5 15.5V4.5Q15.5 3.5 16.5 3.5Z" fill="#fff" stroke="#707070" stroke-width="1"/>
<path d="M23.5 3.5V6.8H26.8" fill="#f4f4f4" stroke="#707070" stroke-width="0.9"/>
<path d="M23.1 9.3H27V13.2H30.8V16.8H27V20.7H23.1V16.8H19.3V13.2H23.1Z" fill="url(#gGreen)" stroke="#0c8c0c" stroke-width="0.9"/>
<path d="M24.2 10.4V14.3H20.4" fill="none" stroke="#a0ffa0" stroke-width="0.8" opacity="0.8"/>
<g stroke="#9a9a9a" stroke-width="1"><path d="M17.2 5.8H19.8M17.2 9.5H22M17.2 11.5H22M17.2 13.5H19.5"/></g>
<text x="34" y="14.2" font-size="11.6" letter-spacing="0.4" fill="#000" stroke="#000" stroke-width="0.25" font-family="'Liberation Sans','Noto Sans CJK SC',sans-serif">新订单</text>
<path d="M90.2 18.7 L97.7 13.4 L97.7 11.8 L96 10.4 L89.6 16.2 Z" fill="#e8dcb0" stroke="#9c6408" stroke-width="0.7"/>
<path d="M90.6 17.2 L97 12.4" stroke="#9c6408" stroke-width="0.5"/>
<path d="M87.7 4 Q86.2 8 82.2 12.4 L90.2 18.7 L89.6 16.2 L96 10.3 Z" fill="url(#gGold)" stroke="#a86c08" stroke-width="0.8"/>
<path d="M82.4 12.6 L90 18.2 L89.4 16 L83.4 12.2 Z" fill="#c89010"/>
<path d="M83.4 13 L89.6 17.2" stroke="#f4d868" stroke-width="0.9"/>
<path d="M112.2 3.6 L115.6 5 V13 H112.2 Z" fill="#48b4f8" stroke="#1a8ae0" stroke-width="0.5"/>
<path d="M112.2 3.4 H120.4 L123.2 5 H115.6 Z" fill="#2c9cf0"/>
<rect x="115.6" y="5" width="7.6" height="8" fill="#0a96f4"/>
<path d="M117.2 8.3H121.6" stroke="#e8f6ff" stroke-width="1"/>
<path d="M113.2 18.4 Q110.2 18.2 110.3 15.6 Q110.6 13.6 113.2 13.6 Q113.8 11.4 116.6 11.6 Q118 11 119.6 12.8 Q122.2 11.8 123.4 14 Q125.8 14 125.7 16.2 Q125.6 18.4 123 18.4 Z" fill="url(#gCloud)" stroke="#4060a0" stroke-width="1"/>
<circle cx="146" cy="10.6" r="7.8" fill="url(#gSigFill)"/>
<g fill="none" stroke="url(#gSig)" stroke-width="1.1"><circle cx="146" cy="10.6" r="7.6"/><circle cx="146" cy="10.6" r="4.8"/></g>
<circle cx="146" cy="10.6" r="1.9" fill="#2860d0"/><path d="M146.6 11V18.7" stroke="#20a820" stroke-width="1.3"/>
<path d="M165.5 10.4 L172.4 18.7 L175.4 18.7 L181 10 Z" fill="#f8e878" stroke="#d8a818" stroke-width="0.8"/>
<path d="M167.4 11.4 L172.8 17.4" stroke="#fffad8" stroke-width="1.1"/>
<path d="M165.2 8.2 Q165.4 5.6 168.6 6 Q169.6 3 173 3 Q176.4 3 177.4 6 Q181 5.4 181.1 7.8 Q179 10.6 173 10.4 Q167 10.6 165.2 8.2 Z" fill="#60b8e8" stroke="#2888b8" stroke-width="0.8"/>
<path d="M168.8 6.6 Q173 8.6 177.2 6.6" stroke="#2888b8" stroke-width="0.6" fill="none"/>
<path d="M170.4 5.6 Q171.6 3.8 174 4" stroke="#b8e4fa" stroke-width="0.9" fill="none"/>
<circle cx="177.6" cy="14.7" r="4.2" fill="#e42410" stroke="#c01c08" stroke-width="0.5"/><rect x="176" y="13.1" width="3.2" height="3.1" fill="#fff"/>
<text x="186.7" y="14.2" font-size="11.6" letter-spacing="0.4" fill="#000" stroke="#000" stroke-width="0.25" font-family="'Liberation Sans','Noto Sans CJK SC',sans-serif">自动交易</text>
<rect x="241" y="0" width="1" height="22" fill="#a0a0a0" shape-rendering="crispEdges"/>
<rect x="242" y="0" width="1" height="22" fill="#fff" shape-rendering="crispEdges"/>
<rect x="245" y="1" width="3" height="1" fill="#a0a0a0" shape-rendering="crispEdges"/>
<rect x="245" y="3" width="3" height="1" fill="#a0a0a0" shape-rendering="crispEdges"/>
<rect x="245" y="5" width="3" height="1" fill="#a0a0a0" shape-rendering="crispEdges"/>
<rect x="245" y="7" width="3" height="1" fill="#a0a0a0" shape-rendering="crispEdges"/>
<rect x="245" y="9" width="3" height="1" fill="#a0a0a0" shape-rendering="crispEdges"/>
<rect x="245" y="11" width="3" height="1" fill="#a0a0a0" shape-rendering="crispEdges"/>
<rect x="245" y="13" width="3" height="1" fill="#a0a0a0" shape-rendering="crispEdges"/>
<rect x="245" y="15" width="3" height="1" fill="#a0a0a0" shape-rendering="crispEdges"/>
<rect x="245" y="17" width="3" height="1" fill="#a0a0a0" shape-rendering="crispEdges"/>
<rect x="245" y="19" width="3" height="1" fill="#a0a0a0" shape-rendering="crispEdges"/>
<g stroke="#505050" stroke-width="1.1" fill="none"><path d="M259.5 6V18.6M257.2 16.5H269.5"/></g>
<polygon points="259.5,4.4 257.9,7.2 261.1,7.2" fill="#505050"/>
<polygon points="271.2,16.5 268.6,14.9 268.6,18.1" fill="#505050"/>
<path d="M265.5 6.5V14.5M265.5 7.5H268.5M262.5 13.5H265.5" stroke="#189018" stroke-width="1.3" fill="none"/>
<rect x="279" y="0" width="25" height="21" fill="url(#chk)" shape-rendering="crispEdges"/>
<rect x="279" y="0" width="1" height="21" fill="#a0a0a0" shape-rendering="crispEdges"/>
<rect x="279" y="21" width="26" height="1" fill="#fff" shape-rendering="crispEdges"/>
<rect x="304" y="0" width="1" height="22" fill="#fff" shape-rendering="crispEdges"/>
<g stroke="#505050" stroke-width="1.1" fill="none"><path d="M287.5 6V18.6M285.2 16.5H297.5"/></g>
<polygon points="287.5,4.4 285.9,7.2 289.1,7.2" fill="#505050"/>
<polygon points="299.2,16.5 296.6,14.9 296.6,18.1" fill="#505050"/>
<path d="M293.5 3V15" stroke="#189018" stroke-width="1.2"/><rect x="291.3" y="5.2" width="4.6" height="7.6" fill="#30d030" stroke="#189018" stroke-width="0.9"/>
<g stroke="#505050" stroke-width="1.1" fill="none"><path d="M315.5 6V18.6M313.2 16.5H325.5"/></g>
<polygon points="315.5,4.4 313.9,7.2 317.1,7.2" fill="#505050"/>
<polygon points="327.2,16.5 324.6,14.9 324.6,18.1" fill="#505050"/>
<path d="M314 13.6 C317 12.6 318 8.4 320.4 8.2 C322.6 8.2 324 11.4 326.4 12" stroke="#189018" stroke-width="1.2" fill="none"/>
<rect x="336" y="0" width="1" height="21" fill="#a0a0a0" shape-rendering="crispEdges"/>
<path d="M355.4 13.4L360.59999999999997 18.2" stroke="#c8a030" stroke-width="2.6" stroke-linecap="round"/>
<path d="M355.8 13.2L360.4 17.4" stroke="#f0d878" stroke-width="0.9" stroke-linecap="round"/>
<circle cx="351.2" cy="9.2" r="5.4" fill="url(#gLens)" stroke="#3878d0" stroke-width="1.2"/>
<path d="M348.2 9.2H354.2" stroke="#4888b8" stroke-width="1.8"/>
<path d="M351.2 6.2V12.2" stroke="#4888b8" stroke-width="1.8"/>
<path d="M383.4 13.4L388.59999999999997 18.2" stroke="#c8a030" stroke-width="2.6" stroke-linecap="round"/>
<path d="M383.8 13.2L388.4 17.4" stroke="#f0d878" stroke-width="0.9" stroke-linecap="round"/>
<circle cx="379.2" cy="9.2" r="5.4" fill="url(#gLens)" stroke="#3878d0" stroke-width="1.2"/>
<path d="M376.2 9.2H382.2" stroke="#4888b8" stroke-width="1.8"/>
<rect x="401" y="3" width="8" height="8" fill="#48a020"/><rect x="402.5" y="6" width="5" height="3.6" fill="#fff" opacity="0.92"/><rect x="403.5" y="7.2" width="3" height="1" fill="#48a020" opacity="0.6"/><rect x="402" y="4" width="1" height="1" fill="#fff" opacity="0.8"/>
<rect x="409" y="3" width="8" height="8" fill="#2858c8"/><rect x="410.5" y="6" width="5" height="3.6" fill="#fff" opacity="0.92"/><rect x="411.5" y="7.2" width="3" height="1" fill="#2858c8" opacity="0.6"/><rect x="410" y="4" width="1" height="1" fill="#fff" opacity="0.8"/>
<rect x="401" y="11" width="8" height="8" fill="#2858c8"/><rect x="402.5" y="14" width="5" height="3.6" fill="#fff" opacity="0.92"/><rect x="403.5" y="15.2" width="3" height="1" fill="#2858c8" opacity="0.6"/><rect x="402" y="12" width="1" height="1" fill="#fff" opacity="0.8"/>
<rect x="409" y="11" width="8" height="8" fill="#48a020"/><rect x="410.5" y="14" width="5" height="3.6" fill="#fff" opacity="0.92"/><rect x="411.5" y="15.2" width="3" height="1" fill="#48a020" opacity="0.6"/><rect x="410" y="12" width="1" height="1" fill="#fff" opacity="0.8"/>
<rect x="426" y="0" width="1" height="21" fill="#a0a0a0" shape-rendering="crispEdges"/>
<rect x="431" y="0" width="25" height="21" fill="url(#chk)" shape-rendering="crispEdges"/>
<rect x="431" y="0" width="1" height="21" fill="#a0a0a0" shape-rendering="crispEdges"/>
<rect x="431" y="21" width="26" height="1" fill="#fff" shape-rendering="crispEdges"/>
<rect x="456" y="0" width="1" height="22" fill="#fff" shape-rendering="crispEdges"/>
<g stroke="#505050" stroke-width="1.1" fill="none"><path d="M439.5 6V18.6M437.2 16.5H449.5"/></g>
<polygon points="439.5,4.4 437.9,7.2 441.1,7.2" fill="#505050"/>
<polygon points="451.2,16.5 448.6,14.9 448.6,18.1" fill="#505050"/>
<polygon points="444.2,7 448.4,10.6 444.2,14.2" fill="#40d040" stroke="#189018" stroke-width="0.9"/>
<rect x="459" y="0" width="25" height="21" fill="url(#chk)" shape-rendering="crispEdges"/>
<rect x="459" y="0" width="1" height="21" fill="#a0a0a0" shape-rendering="crispEdges"/>
<rect x="459" y="21" width="26" height="1" fill="#fff" shape-rendering="crispEdges"/>
<rect x="484" y="0" width="1" height="22" fill="#fff" shape-rendering="crispEdges"/>
<g stroke="#505050" stroke-width="1.1" fill="none"><path d="M467.5 6V18.6M465.2 16.5H477.5"/></g>
<polygon points="467.5,4.4 465.9,7.2 469.1,7.2" fill="#505050"/>
<polygon points="479.2,16.5 476.6,14.9 476.6,18.1" fill="#505050"/>
<path d="M473.7 5V15" stroke="#1868a8" stroke-width="1.3"/><path d="M475 10.5H479.6" stroke="#d04010" stroke-width="1.2"/><polygon points="474.8,10.5 477.6,8.2 477.6,12.8" fill="#d04010"/>
<rect x="488" y="0" width="1" height="21" fill="#a0a0a0" shape-rendering="crispEdges"/>
<path d="M499.5 3.5H506.5L509.8 6.8V15.5Q509.8 16.5 508.8 16.5H499.5Q498.5 16.5 498.5 15.5V4.5Q498.5 3.5 499.5 3.5Z" fill="#fff" stroke="#707070" stroke-width="1"/><path d="M506.5 3.5V6.8H509.8" fill="#f4f4f4" stroke="#707070" stroke-width="0.9"/>
<text x="500.4" y="13" font-size="9.5" font-style="italic" font-family="'Liberation Serif',serif" fill="#303030">f</text>
<path d="M506.6 9.3H510.5V13.2H514.3V16.8H510.5V20.7H506.6V16.8H502.8V13.2H506.6Z" fill="url(#gGreen)" stroke="#0c8c0c" stroke-width="0.9"/>
<path d="M507.7 10.4V14.3H503.9" fill="none" stroke="#a0ffa0" stroke-width="0.8" opacity="0.8"/>
<polygon points="519.7,10 525.7,10 522.7,13.2" fill="#000"/>
<circle cx="543.8" cy="10.8" r="6.8" fill="#eef2f8" stroke="url(#gBlue)" stroke-width="2.4"/>
<path d="M543.8 6.8V11H546.6" stroke="#404040" stroke-width="1" fill="none"/>
<g fill="#98a8c0"><rect x="543.4" y="5.4" width="0.9" height="0.9"/><rect x="543.4" y="15.2" width="0.9" height="0.9"/><rect x="538.6" y="10.4" width="0.9" height="0.9"/><rect x="548.2" y="10.4" width="0.9" height="0.9"/></g>
<polygon points="558.5,10 564.5,10 561.5,13.2" fill="#000"/>
<rect x="575.5" y="4.5" width="15" height="13" fill="#f8fbff" stroke="#2868c8" stroke-width="1"/><rect x="575" y="4" width="16" height="2.6" fill="#3878d8"/><path d="M576 11.5H590" stroke="#88b0e8" stroke-width="1"/>
<path d="M577.4 10 L580 8.8 L582 9.4 L584 8.2 L586.6 9.2 L589 8" stroke="#a82808" stroke-width="1.1" fill="none"/>
<path d="M577.4 15.6 L580 14.6 L582 15.4 L585 13.2 L587 15.2 L589 14.6" stroke="#18a028" stroke-width="1.1" fill="none"/>
<polygon points="597.6,10 603.6,10 600.6,13.2" fill="#000"/>
<rect x="609" y="0" width="1" height="22" fill="#a0a0a0" shape-rendering="crispEdges"/>
<rect x="610" y="0" width="1" height="22" fill="#fff" shape-rendering="crispEdges"/>
<rect x="613" y="1" width="3" height="1" fill="#a0a0a0" shape-rendering="crispEdges"/>
<rect x="613" y="3" width="3" height="1" fill="#a0a0a0" shape-rendering="crispEdges"/>
<rect x="613" y="5" width="3" height="1" fill="#a0a0a0" shape-rendering="crispEdges"/>
<rect x="613" y="7" width="3" height="1" fill="#a0a0a0" shape-rendering="crispEdges"/>
<rect x="613" y="9" width="3" height="1" fill="#a0a0a0" shape-rendering="crispEdges"/>
<rect x="613" y="11" width="3" height="1" fill="#a0a0a0" shape-rendering="crispEdges"/>
<rect x="613" y="13" width="3" height="1" fill="#a0a0a0" shape-rendering="crispEdges"/>
<rect x="613" y="15" width="3" height="1" fill="#a0a0a0" shape-rendering="crispEdges"/>
<rect x="613" y="17" width="3" height="1" fill="#a0a0a0" shape-rendering="crispEdges"/>
<rect x="613" y="19" width="3" height="1" fill="#a0a0a0" shape-rendering="crispEdges"/>
<rect x="619" y="0" width="25" height="21" fill="url(#chk)" shape-rendering="crispEdges"/>
<rect x="619" y="0" width="1" height="21" fill="#a0a0a0" shape-rendering="crispEdges"/>
<rect x="619" y="21" width="26" height="1" fill="#fff" shape-rendering="crispEdges"/>
<rect x="644" y="0" width="1" height="22" fill="#fff" shape-rendering="crispEdges"/>
<path d="M627.2 3.6 V15.2 L630 12.6 L632.6 18.2 L634.8 17.2 L632.2 11.8 L635.6 11.6 Z" fill="#505050"/>
<path d="M652 11.5H658M661 11.5H667M659.5 4V10M659.5 13V19" stroke="#505050" stroke-width="1.2"/><rect x="659" y="11" width="1" height="1" fill="#505050"/>
<rect x="676" y="0" width="1" height="21" fill="#a0a0a0" shape-rendering="crispEdges"/>
<path d="M693.5 5V18" stroke="#505050" stroke-width="1.3"/>
<path d="M716 11.5H728" stroke="#505050" stroke-width="1.3"/>
<path d="M743.8 18L756 5.6" stroke="#505050" stroke-width="1.3"/>
<g stroke="#505050" stroke-width="1.25" fill="none"><path d="M770 12.8L779 5.2M772 17.4L784 8.4M774.6 17.6L782.6 11"/><path d="M772.4 11.6l1.4 4.4M775.2 9.4l1.6 4.6M778.2 7l1.4 4.4M781.6 3l0.6 6.4"/></g>
<text x="780.6" y="19.8" font-size="7" font-weight="bold" fill="#505050" font-family="'Liberation Sans',sans-serif">E</text>
<path d="M799 4.5H812" stroke="#505050" stroke-width="1" stroke-dasharray="1 1" shape-rendering="crispEdges"/>
<path d="M799 7.5H812" stroke="#505050" stroke-width="1" stroke-dasharray="1 1" shape-rendering="crispEdges"/>
<path d="M799 11.5H812" stroke="#505050" stroke-width="1" stroke-dasharray="1 1" shape-rendering="crispEdges"/>
<path d="M799 15.5H808" stroke="#505050" stroke-width="1" stroke-dasharray="1 1" shape-rendering="crispEdges"/>
<text x="808.8" y="19.8" font-size="7" font-weight="bold" fill="#505050" font-family="'Liberation Sans',sans-serif">F</text>
<text x="829.4" y="16" font-size="12.5" fill="#505050" font-family="'Liberation Sans',sans-serif">A</text>
<rect x="856.5" y="5.5" width="11" height="12" fill="none" stroke="#505050" stroke-width="1" stroke-dasharray="1 1" shape-rendering="crispEdges"/><rect x="855" y="4" width="2" height="2" fill="#505050"/>
<path d="M858.4 8.4H866M862.2 8.4V15.6" stroke="#505050" stroke-width="1.5"/>
<polygon points="886.5,4.8 890,8 886.5,9.8 883,8" fill="#505050"/><polygon points="893.5,13.4 897.2,15.2 893.5,18.4 889.8,15.2" fill="#505050"/>
<path d="M885.6 13.2L887.6 15L892 9.4" stroke="#505050" stroke-width="1.2" fill="none"/>
<polygon points="903.5,10 909.5,10 906.5,13.2" fill="#000"/>
<rect x="915" y="0" width="1" height="22" fill="#a0a0a0" shape-rendering="crispEdges"/>
<rect x="916" y="0" width="1" height="22" fill="#fff" shape-rendering="crispEdges"/>
<rect x="919" y="1" width="3" height="1" fill="#a0a0a0" shape-rendering="crispEdges"/>
<rect x="919" y="3" width="3" height="1" fill="#a0a0a0" shape-rendering="crispEdges"/>
<rect x="919" y="5" width="3" height="1" fill="#a0a0a0" shape-rendering="crispEdges"/>
<rect x="919" y="7" width="3" height="1" fill="#a0a0a0" shape-rendering="crispEdges"/>
<rect x="919" y="9" width="3" height="1" fill="#a0a0a0" shape-rendering="crispEdges"/>
<rect x="919" y="11" width="3" height="1" fill="#a0a0a0" shape-rendering="crispEdges"/>
<rect x="919" y="13" width="3" height="1" fill="#a0a0a0" shape-rendering="crispEdges"/>
<rect x="919" y="15" width="3" height="1" fill="#a0a0a0" shape-rendering="crispEdges"/>
<rect x="919" y="17" width="3" height="1" fill="#a0a0a0" shape-rendering="crispEdges"/>
<rect x="919" y="19" width="3" height="1" fill="#a0a0a0" shape-rendering="crispEdges"/>
<rect x="1065" y="0" width="25" height="21" fill="url(#chk)" shape-rendering="crispEdges"/>
<rect x="1065" y="0" width="1" height="21" fill="#a0a0a0" shape-rendering="crispEdges"/>
<rect x="1065" y="21" width="26" height="1" fill="#fff" shape-rendering="crispEdges"/>
<rect x="1090" y="0" width="1" height="22" fill="#fff" shape-rendering="crispEdges"/>
<text x="937" y="14.6" font-size="9.3" text-anchor="middle" fill="#404040" font-family="'Liberation Sans',sans-serif">M1</text>
<text x="965" y="14.6" font-size="9.3" text-anchor="middle" fill="#404040" font-family="'Liberation Sans',sans-serif">M5</text>
<text x="993" y="14.6" font-size="9.3" text-anchor="middle" fill="#404040" font-family="'Liberation Sans',sans-serif">M15</text>
<text x="1021" y="14.6" font-size="9.3" text-anchor="middle" fill="#404040" font-family="'Liberation Sans',sans-serif">M30</text>
<text x="1049" y="14.6" font-size="9.3" text-anchor="middle" fill="#404040" font-family="'Liberation Sans',sans-serif">H1</text>
<text x="1077" y="14.6" font-size="9.3" text-anchor="middle" fill="#404040" font-family="'Liberation Sans',sans-serif">H4</text>
<text x="1105" y="14.6" font-size="9.3" text-anchor="middle" fill="#404040" font-family="'Liberation Sans',sans-serif">D1</text>
<text x="1133" y="14.6" font-size="9.3" text-anchor="middle" fill="#404040" font-family="'Liberation Sans',sans-serif">W1</text>
<text x="1161" y="14.6" font-size="9.3" text-anchor="middle" fill="#404040" font-family="'Liberation Sans',sans-serif">MN</text>
<rect x="1176" y="0" width="1" height="22" fill="#a0a0a0" shape-rendering="crispEdges"/>
<rect x="1177" y="0" width="1" height="22" fill="#fff" shape-rendering="crispEdges"/>
<path d="M1643.4 11.8L1638.8 16.2" stroke="#2858c8" stroke-width="2.4" stroke-linecap="round"/><circle cx="1646.6" cy="8.5" r="4" fill="#f4f6ff" stroke="#2858c8" stroke-width="1.3"/>
<ellipse cx="1669" cy="13" rx="5.6" ry="4.6" fill="#e4e4ec" stroke="#b0b0b0" stroke-width="0.8"/><path d="M1665.6 16.6L1666.6 19.6L1669 17.4Z" fill="#c8c8d0" stroke="#a8a8a8" stroke-width="0.5"/>
<circle cx="1677.4" cy="8.3" r="8.2" fill="url(#gRed)"/>
<text x="1676.6" y="12.9" font-size="12.5" text-anchor="middle" fill="#fff" font-family="'Liberation Sans',sans-serif">1</text>
</svg>
<div class="c" style="left:1650px;top:36px;">172.490</div>
<div class="c" style="left:1650px;top:69px;">172.070</div>
<div class="c" style="left:1650px;top:102px;">171.640</div>
<div class="c" style="left:1650px;top:135px;">171.220</div>
<div class="c" style="left:1650px;top:168px;">170.790</div>
<div class="c" style="left:1650px;top:201px;">170.370</div>
<div class="c" style="left:1650px;top:234px;">169.940</div>
<div class="c" style="left:1650px;top:267px;">169.520</div>
<div class="c" style="left:1650px;top:300px;">169.100</div>
<div class="c" style="left:1650px;top:333px;">168.670</div>
<div class="c" style="left:1650px;top:366px;">168.250</div>
<div class="c" style="left:1650px;top:399px;">167.820</div>
<div class="c" style="left:1650px;top:432px;">167.400</div>
<div class="c" style="left:1650px;top:465px;">166.970</div>
<div class="c" style="left:1650px;top:498px;">166.550</div>
<div class="c" style="left:1650px;top:531px;">166.120</div>
<div class="c" style="left:1650px;top:564px;">165.700</div>
<div class="c" style="left:1650px;top:597px;">165.270</div>
<div class="c w" style="left:1646px;top:206px;width:37px;padding-left:4px;background:#ff0000">170.305</div>
<div class="c w" style="left:1646px;top:236px;width:37px;padding-left:4px;background:#ff0000">169.919</div>
<div class="c w" style="left:1646px;top:271px;width:37px;padding-left:4px;background:#ff8c00">169.469</div>
<div class="c w" style="left:1646px;top:292px;width:37px;padding-left:4px;background:#000">169.208</div>
<div class="c w" style="left:1646px;top:328px;width:37px;padding-left:4px;background:#0000ff">168.736</div>
<div class="c w" style="left:1646px;top:357px;width:37px;padding-left:4px;background:#0000ff">168.364</div>
<div class="c" style="left:1648px;top:609px;">1.4098</div>
<div class="c" style="left:1648px;top:697px;">0.00</div>
<div class="c" style="left:1648px;top:708px;">-0.2571</div>
<div class="c" style="left:1648px;top:724px;">100</div>
<div class="c" style="left:1647px;top:740px;">80</div>
<div class="c" style="left:1647px;top:772px;">50</div>
<div class="c" style="left:1647px;top:809px;">15</div>
<div class="c" style="left:1648px;top:819px;">0</div>
<div class="c" style="left:20px;top:29px;letter-spacing:-0.09px">GBPJPY-,H4&nbsp; 169.476 169.868 169.201 169.208</div>
<div class="c" style="left:9px;top:611px;">MACD(12,26,9) 0.2044 0.6219</div>
<div class="c" style="left:9px;top:726px;">RSI(14) 43.7129</div>
<div class="c" style="left:4px;top:835px;">14 Apr 2023</div>
<div class="c" style="left:68px;top:835px;">17 Apr 04:00</div>
<div class="c" style="left:132px;top:835px;">17 Apr 20:00</div>
<div class="c" style="left:196px;top:835px;">18 Apr 12:00</div>
<div class="c" style="left:260px;top:835px;">19 Apr 04:00</div>
<div class="c" style="left:324px;top:835px;">19 Apr 20:00</div>
<div class="c" style="left:388px;top:835px;">20 Apr 12:00</div>
<div class="c" style="left:452px;top:835px;">21 Apr 04:00</div>
<div class="c" style="left:516px;top:835px;">23 Apr 23:00</div>
<div class="c" style="left:580px;top:835px;">24 Apr 12:00</div>
<div class="c" style="left:644px;top:835px;">25 Apr 04:00</div>
<div class="c" style="left:708px;top:835px;">25 Apr 20:00</div>
<div class="c" style="left:772px;top:835px;">26 Apr 12:00</div>
<div class="c" style="left:836px;top:835px;">27 Apr 04:00</div>
<div class="c" style="left:900px;top:835px;">27 Apr 20:00</div>
<div class="c" style="left:964px;top:835px;">28 Apr 12:00</div>
<div class="c" style="left:1028px;top:835px;">1 May 04:00</div>
<div class="c" style="left:1092px;top:835px;">1 May 20:00</div>
<div class="c" style="left:1156px;top:835px;">2 May 12:00</div>
<div class="c" style="left:1220px;top:835px;">3 May 04:00</div>
<div class="c" style="left:1284px;top:835px;">3 May 20:00</div>
<div class="c" style="left:8px;top:34px;width:0;height:0;border-left:4px solid transparent;border-right:4px solid transparent;border-top:4px solid #000"></div>
</body></html>
